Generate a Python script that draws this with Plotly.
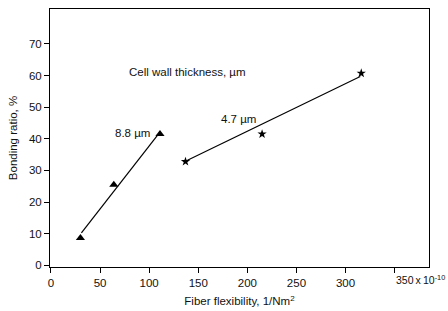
import plotly.graph_objects as go

# Data
tri_x = [30, 64, 111]
tri_y = [8.7, 25.5, 41.5]
tri_fit_x = [31, 109]
tri_fit_y = [10.3, 41.3]

star_x = [137, 215, 316]
star_y = [32.8, 41.5, 60.7]
star_fit_x = [139, 315]
star_fit_y = [33.2, 59.7]

x_ticks = [0, 50, 100, 150, 200, 250, 300, 350]
x_ticktext = ["0", "50", "100", "150", "200", "250", "300", ""]
y_ticks = [0, 10, 20, 30, 40, 50, 60, 70]

fig = go.Figure()
fig.add_trace(go.Scatter(x=tri_fit_x, y=tri_fit_y, mode="lines",
                         line=dict(color="black", width=1.2), showlegend=False))
fig.add_trace(go.Scatter(x=star_fit_x, y=star_fit_y, mode="lines",
                         line=dict(color="black", width=1.2), showlegend=False))
fig.add_trace(go.Scatter(x=tri_x, y=tri_y, mode="markers",
                         marker=dict(symbol="triangle-up", size=8, color="black"),
                         showlegend=False))
fig.add_trace(go.Scatter(x=star_x, y=star_y, mode="markers",
                         marker=dict(symbol="star", size=7, color="black"),
                         showlegend=False))

font = dict(family="Liberation Sans, Arial, sans-serif", size=11.5, color="#111")
small_font = dict(family="Liberation Sans, Arial, sans-serif", size=10.5, color="#111")

fig.update_layout(
    width=448, height=311,
    margin=dict(l=50, r=19, t=9, b=44, autoexpand=False),
    paper_bgcolor="white", plot_bgcolor="white",
    font=font,
    xaxis=dict(range=[-1, 385], tickvals=x_ticks, ticktext=x_ticktext,
               showgrid=False, zeroline=False, showline=True, linecolor="black",
               linewidth=1, mirror=True, ticks="outside", ticklen=5,
               tickcolor="black", automargin=False,
               title=dict(text="Fiber flexibility, 1/Nm<sup>2</sup>", standoff=9,
                          font=font)),
    yaxis=dict(range=[-0.5, 81], tickvals=y_ticks,
               showgrid=False, zeroline=False, showline=True, linecolor="black",
               linewidth=1, mirror=True, ticks="outside", ticklen=5,
               tickcolor="black", automargin=False,
               title=dict(text="Bonding ratio, %", standoff=8, font=font)),
)
fig.add_annotation(x=139, y=61.2, xref="x", yref="y", text="Cell wall thickness, µm",
                   showarrow=False, font=font)
fig.add_annotation(x=83, y=41.9, xref="x", yref="y", text="8.8 µm",
                   showarrow=False, font=font)
fig.add_annotation(x=191, y=46.3, xref="x", yref="y", text="4.7 µm",
                   showarrow=False, font=font)
fig.add_annotation(x=352.3, y=0, xref="x", yref="paper",
                   text="350\u2009x\u200910<sup>-10</sup>",
                   showarrow=False, font=small_font, xanchor="left", yanchor="top",
                   yshift=-4, xshift=-3)

fig.write_html("out.html",
               config={"displayModeBar": False},
               post_script="document.body.style.margin='0';document.body.style.overflow='hidden';")
